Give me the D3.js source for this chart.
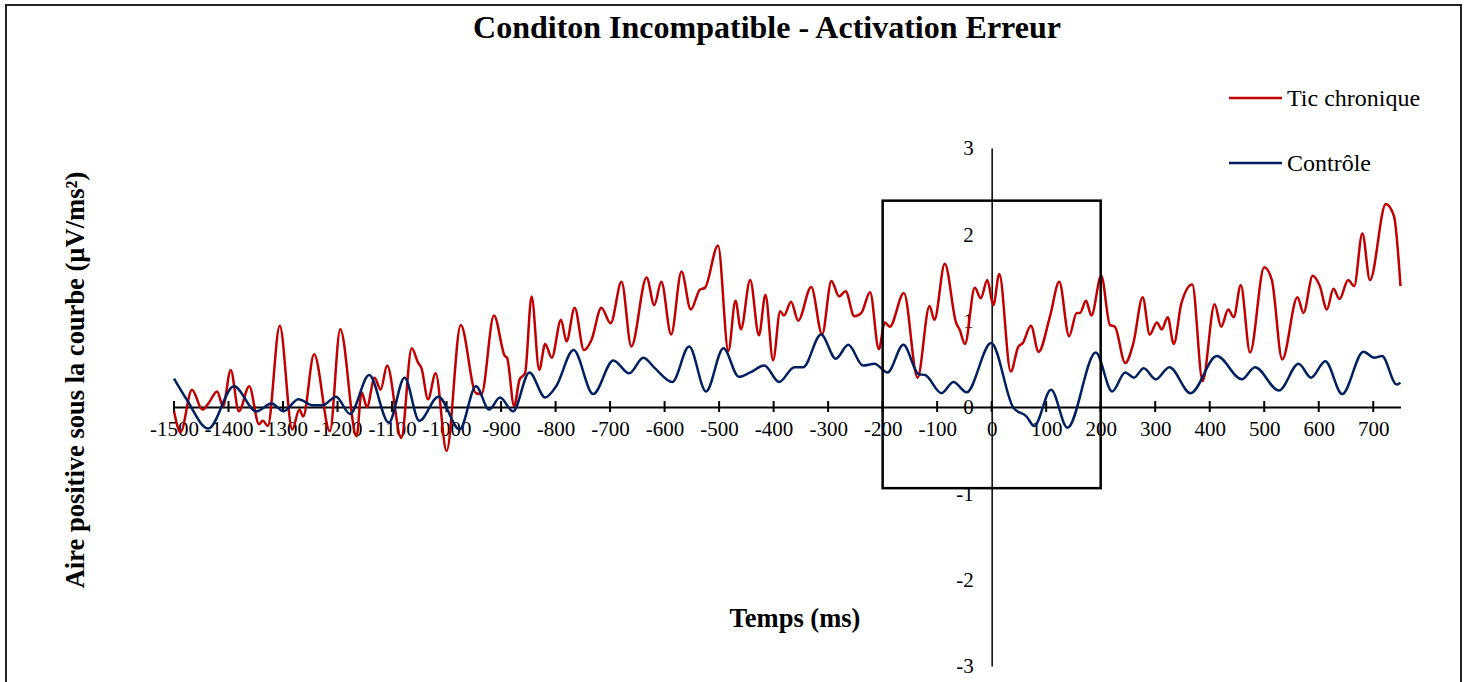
<!DOCTYPE html>
<html>
<head>
<meta charset="utf-8">
<script src="https://cdn.jsdelivr.net/npm/d3@7"></script>
<style>
  html, body { margin: 0; padding: 0; background: #fff; }
  svg { display: block; }
  text { font-family: "Liberation Serif", "Times New Roman", serif; fill: #000; }
</style>
</head>
<body>
<svg id="chart" width="1467" height="682"></svg>
<script>
// ---------- data ----------
const chartTitle = "Conditon Incompatible - Activation Erreur";
const xTitle = "Temps (ms)";
const yTitle = "Aire positive sous la courbe (µV/ms²)";
const seriesNames = ["Tic chronique", "Contrôle"];

const xTicks = [-1500,-1400,-1300,-1200,-1100,-1000,-900,-800,-700,-600,-500,-400,-300,-200,-100,0,100,200,300,400,500,600,700];
const yTicks = [-3,-2,-1,0,1,2,3];

const ticTimes = [
  -1500,-1488,-1467,-1448,-1436,-1421,-1410,-1396,-1381,-1362,
  -1344,-1337,-1328,-1306,-1283,-1270,-1263,-1243,-1214,-1195,
  -1165,-1156,-1146,-1132,-1121,-1109,-1083,-1064,-1052,-1046,
  -1034,-1020,-1000,-974,-946,-936,-913,-893,-889,-876,
  -866,-856,-844,-830,-819,-807,-790,-780,-765,-748,
  -734,-716,-699,-679,-661,-633,-619,-606,-588,-569,
  -552,-535,-526,-502,-483,-470,-460,-443,-427,-415,
  -401,-388,-381,-368,-355,-331,-311,-294,-280,-268,
  -252,-239,-223,-207,-196,-187,-161,-136,-114,-105,
  -86,-65,-59,-49,-31,-20,-8,3,14,35,
  49,57,72,86,107,124,142,156,162,173,
  183,201,217,226,245,260,277,290,303,312,
  323,334,348,368,387,409,421,434,444,457,
  474,500,514,533,561,572,589,602,615,627,
  638,654,665,680,694,723,738,750
];
const ticValues = [
  -0.05,-0.29,0.20,-0.03,0.05,0.18,0.01,0.43,-0.05,0.24,
  -0.20,-0.16,-0.22,0.94,-0.26,-0.03,-0.11,0.61,-0.28,0.90,
  -0.34,0.17,0.00,0.34,0.20,0.48,-0.36,0.68,0.51,0.45,
  0.09,0.39,-0.51,0.95,0.16,0.15,1.06,0.59,0.57,0.01,
  0.32,0.39,1.28,0.43,0.73,0.57,1.01,0.76,1.15,0.66,
  0.78,1.15,0.97,1.45,0.70,1.50,1.18,1.45,0.84,1.57,
  1.13,1.36,1.38,1.87,0.65,1.23,0.90,1.47,0.83,1.30,
  0.54,1.11,1.06,1.22,1.00,1.39,0.84,1.46,1.28,1.34,
  1.05,1.09,1.33,0.67,0.98,0.93,1.32,0.34,1.17,1.01,
  1.66,0.97,0.90,0.73,1.38,1.26,1.47,1.18,1.54,0.41,
  0.70,0.74,0.94,0.64,1.05,1.45,0.82,1.09,1.09,1.23,
  1.06,1.52,0.95,0.93,0.51,0.74,1.27,0.84,0.98,0.90,
  1.04,0.73,1.20,1.42,0.30,1.19,0.93,1.13,1.04,1.41,
  0.63,1.62,1.47,0.55,1.27,1.09,1.52,1.40,1.13,1.37,
  1.25,1.47,1.40,2.01,1.47,2.35,2.21,1.40
];

const ctrlTimes = [
  -1500,-1477,-1437,-1390,-1349,-1321,-1299,-1272,-1245,-1227,
  -1203,-1177,-1142,-1106,-1077,-1050,-1015,-976,-946,-922,
  -902,-878,-848,-819,-799,-767,-731,-694,-665,-639,
  -618,-586,-555,-524,-492,-464,-443,-417,-390,-362,
  -346,-313,-286,-263,-236,-215,-191,-162,-134,-122,
  -92,-70,-46,-1,40,64,78,109,139,191,
  221,245,261,279,301,326,365,413,459,483,
  527,563,586,612,643,682,702,716,743,750
];
const ctrlValues = [
  0.33,0.09,-0.25,0.24,-0.05,0.04,-0.05,0.09,0.02,0.02,
  0.12,-0.08,0.37,-0.18,0.34,-0.16,0.12,-0.26,0.24,-0.03,
  0.11,-0.05,0.40,0.11,0.24,0.66,0.15,0.54,0.39,0.57,
  0.45,0.29,0.70,0.18,0.68,0.35,0.40,0.48,0.29,0.46,
  0.46,0.84,0.56,0.72,0.48,0.50,0.40,0.72,0.38,0.37,
  0.16,0.29,0.17,0.74,-0.01,-0.11,-0.22,0.20,-0.24,0.63,
  0.18,0.40,0.34,0.45,0.32,0.46,0.16,0.59,0.32,0.46,
  0.19,0.50,0.34,0.53,0.15,0.64,0.57,0.59,0.26,0.28
];

// highlighted window (annotation box), in data units
const windowTimes = [-200, 200];
const windowValues = [-0.94, 2.39];

// ---------- drawing ----------
const colors = ["#C00000", "#002060"];
const svg = d3.select("#chart");
const fmt = d => String(d); // plain hyphen-minus, as in the reference

const x = d3.scaleLinear().domain([-1500, 750]).range([174, 1400.5]);
const y = d3.scaleLinear().domain([-3, 3]).range([666, 148]);

// outer frame
svg.append("rect")
  .attr("x", 6).attr("y", 5).attr("width", 1455).attr("height", 700)
  .attr("fill", "none").attr("stroke", "#222").attr("stroke-width", 2);

// title
svg.append("text")
  .attr("x", 767).attr("y", 38)
  .attr("text-anchor", "middle")
  .attr("font-weight", "bold").attr("font-size", 32)
  .text(chartTitle);

// y axis (line at x = 0, labels to the left)
const yAxis = d3.axisLeft(y).tickValues(yTicks).tickSize(0).tickPadding(18).tickFormat(fmt);
const gy = svg.append("g").attr("transform", `translate(${x(0)},0)`).call(yAxis);
gy.select(".domain").attr("stroke", "#000").attr("stroke-width", 1.5);
gy.selectAll(".tick text")
  .attr("font-family", "Liberation Serif").attr("font-size", 21).attr("fill", "#000");

// x axis (at y = 0)
const xAxis = d3.axisBottom(x).tickValues(xTicks).tickSize(0).tickPadding(14).tickFormat(fmt);
const gx = svg.append("g").attr("transform", `translate(0,${y(0)})`).call(xAxis);
gx.select(".domain").attr("stroke", "#000").attr("stroke-width", 2);
gx.selectAll(".tick text")
  .attr("font-family", "Liberation Serif").attr("font-size", 21).attr("fill", "#000")
  .attr("dy", "0.71em");
svg.append("g").selectAll("line").data(xTicks).join("line")
  .attr("x1", d => x(d)).attr("x2", d => x(d))
  .attr("y1", y(0) - 6).attr("y2", y(0) + 5)
  .attr("stroke", "#000").attr("stroke-width", 2);

// axis titles
svg.append("text")
  .attr("x", 795).attr("y", 627)
  .attr("text-anchor", "middle")
  .attr("font-weight", "bold").attr("font-size", 26.5)
  .text(xTitle);
svg.append("text")
  .attr("transform", "translate(84,380) rotate(-90)")
  .attr("text-anchor", "middle")
  .attr("font-weight", "bold").attr("font-size", 26.5)
  .text(yTitle);

// series
const series = [
  { name: seriesNames[0], pts: ticTimes.map((t, i) => [t, ticValues[i]]), color: colors[0] },
  { name: seriesNames[1], pts: ctrlTimes.map((t, i) => [t, ctrlValues[i]]), color: colors[1] }
];
const line = d3.line().x(d => x(d[0])).y(d => y(d[1])).curve(d3.curveMonotoneX);

svg.append("g").selectAll("path").data(series).join("path")
  .attr("d", d => line(d.pts))
  .attr("fill", "none")
  .attr("stroke", d => d.color)
  .attr("stroke-width", 2.5)
  .attr("stroke-linejoin", "round");

// highlight box
svg.append("rect")
  .attr("x", x(windowTimes[0])).attr("y", y(windowValues[1]))
  .attr("width", x(windowTimes[1]) - x(windowTimes[0]))
  .attr("height", y(windowValues[0]) - y(windowValues[1]))
  .attr("fill", "none").attr("stroke", "#000").attr("stroke-width", 2.5);

// legend
const legendY = [98, 163];
const lg = svg.append("g").selectAll("g").data(series).join("g")
  .attr("transform", (d, i) => `translate(0,${legendY[i]})`);
lg.append("line")
  .attr("x1", 1229).attr("x2", 1282).attr("y1", 0).attr("y2", 0)
  .attr("stroke", d => d.color).attr("stroke-width", 2.5);
lg.append("text")
  .attr("x", 1287).attr("y", 8)
  .attr("font-size", 24)
  .text(d => d.name);
</script>
</body>
</html>
